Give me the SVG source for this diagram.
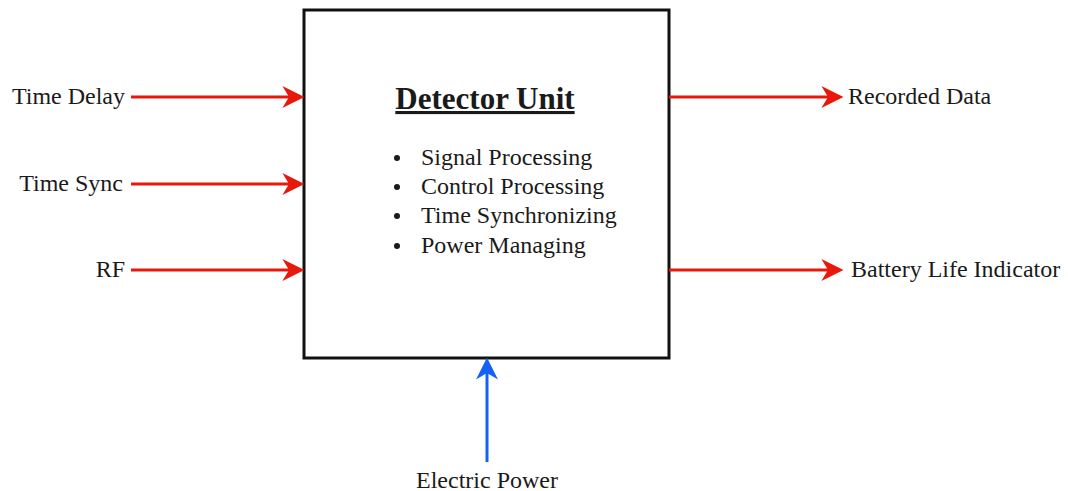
<svg xmlns="http://www.w3.org/2000/svg" width="1068" height="491" viewBox="0 0 1068 491">
<style>
.lbl{font-family:"Liberation Serif","Times New Roman",serif;font-size:24px;fill:#1a1a1a}
.title{font-family:"Liberation Serif","Times New Roman",serif;font-size:31px;font-weight:bold;fill:#1a1a1a;text-decoration:underline}
.red{stroke:#e8190c;stroke-width:3;fill:none}
.blue{stroke:#1560f5;stroke-width:3;fill:none}
</style>
<defs>
<marker id="ar" markerUnits="userSpaceOnUse" markerWidth="22" markerHeight="22" viewBox="0 0 20 20" refX="6" refY="10" orient="auto">
<path d="M0,0 L20,10 L0,20 L6,10 Z" fill="#e8190c"/>
</marker>
<marker id="ab" markerUnits="userSpaceOnUse" markerWidth="22" markerHeight="22" viewBox="0 0 20 20" refX="6" refY="10" orient="auto">
<path d="M0,0 L20,10 L0,20 L6,10 Z" fill="#1560f5"/>
</marker>
</defs>
<rect width="1068" height="491" fill="#ffffff"/>
<g id="detector-unit">
<rect x="304" y="10" width="365" height="348" fill="#ffffff" stroke="#111111" stroke-width="3"/>
<text class="title" x="485" y="109" text-anchor="middle">Detector Unit</text>
<g fill="#1a1a1a">
<circle cx="397" cy="158" r="3"/>
<circle cx="397" cy="187" r="3"/>
<circle cx="397" cy="216" r="3"/>
<circle cx="397" cy="246" r="3"/>
</g>
<text class="lbl" x="421" y="165">Signal Processing</text>
<text class="lbl" x="421" y="194">Control Processing</text>
<text class="lbl" x="421" y="223">Time Synchronizing</text>
<text class="lbl" x="421" y="253">Power Managing</text>
</g>
<g id="time-delay"><text class="lbl" x="125" y="104" text-anchor="end">Time Delay</text></g>
<g id="time-sync"><text class="lbl" x="123" y="191" text-anchor="end">Time Sync</text></g>
<g id="rf"><text class="lbl" x="125" y="277" text-anchor="end">RF</text></g>
<g id="recorded-data"><text class="lbl" x="848" y="104">Recorded Data</text></g>
<g id="battery-life"><text class="lbl" x="851" y="277">Battery Life Indicator</text></g>
<g id="electric-power"><text class="lbl" x="487" y="488" text-anchor="middle">Electric Power</text></g>
<g id="connectors">
<line class="red" x1="131" y1="97" x2="289" y2="97" marker-end="url(#ar)"/>
<line class="red" x1="131" y1="184" x2="289" y2="184" marker-end="url(#ar)"/>
<line class="red" x1="131" y1="270" x2="289" y2="270" marker-end="url(#ar)"/>
<line class="red" x1="669" y1="97" x2="828" y2="97" marker-end="url(#ar)"/>
<line class="red" x1="669" y1="270" x2="828" y2="270" marker-end="url(#ar)"/>
<line class="blue" x1="487" y1="462" x2="487" y2="373" marker-end="url(#ab)"/>
</g>
</svg>
